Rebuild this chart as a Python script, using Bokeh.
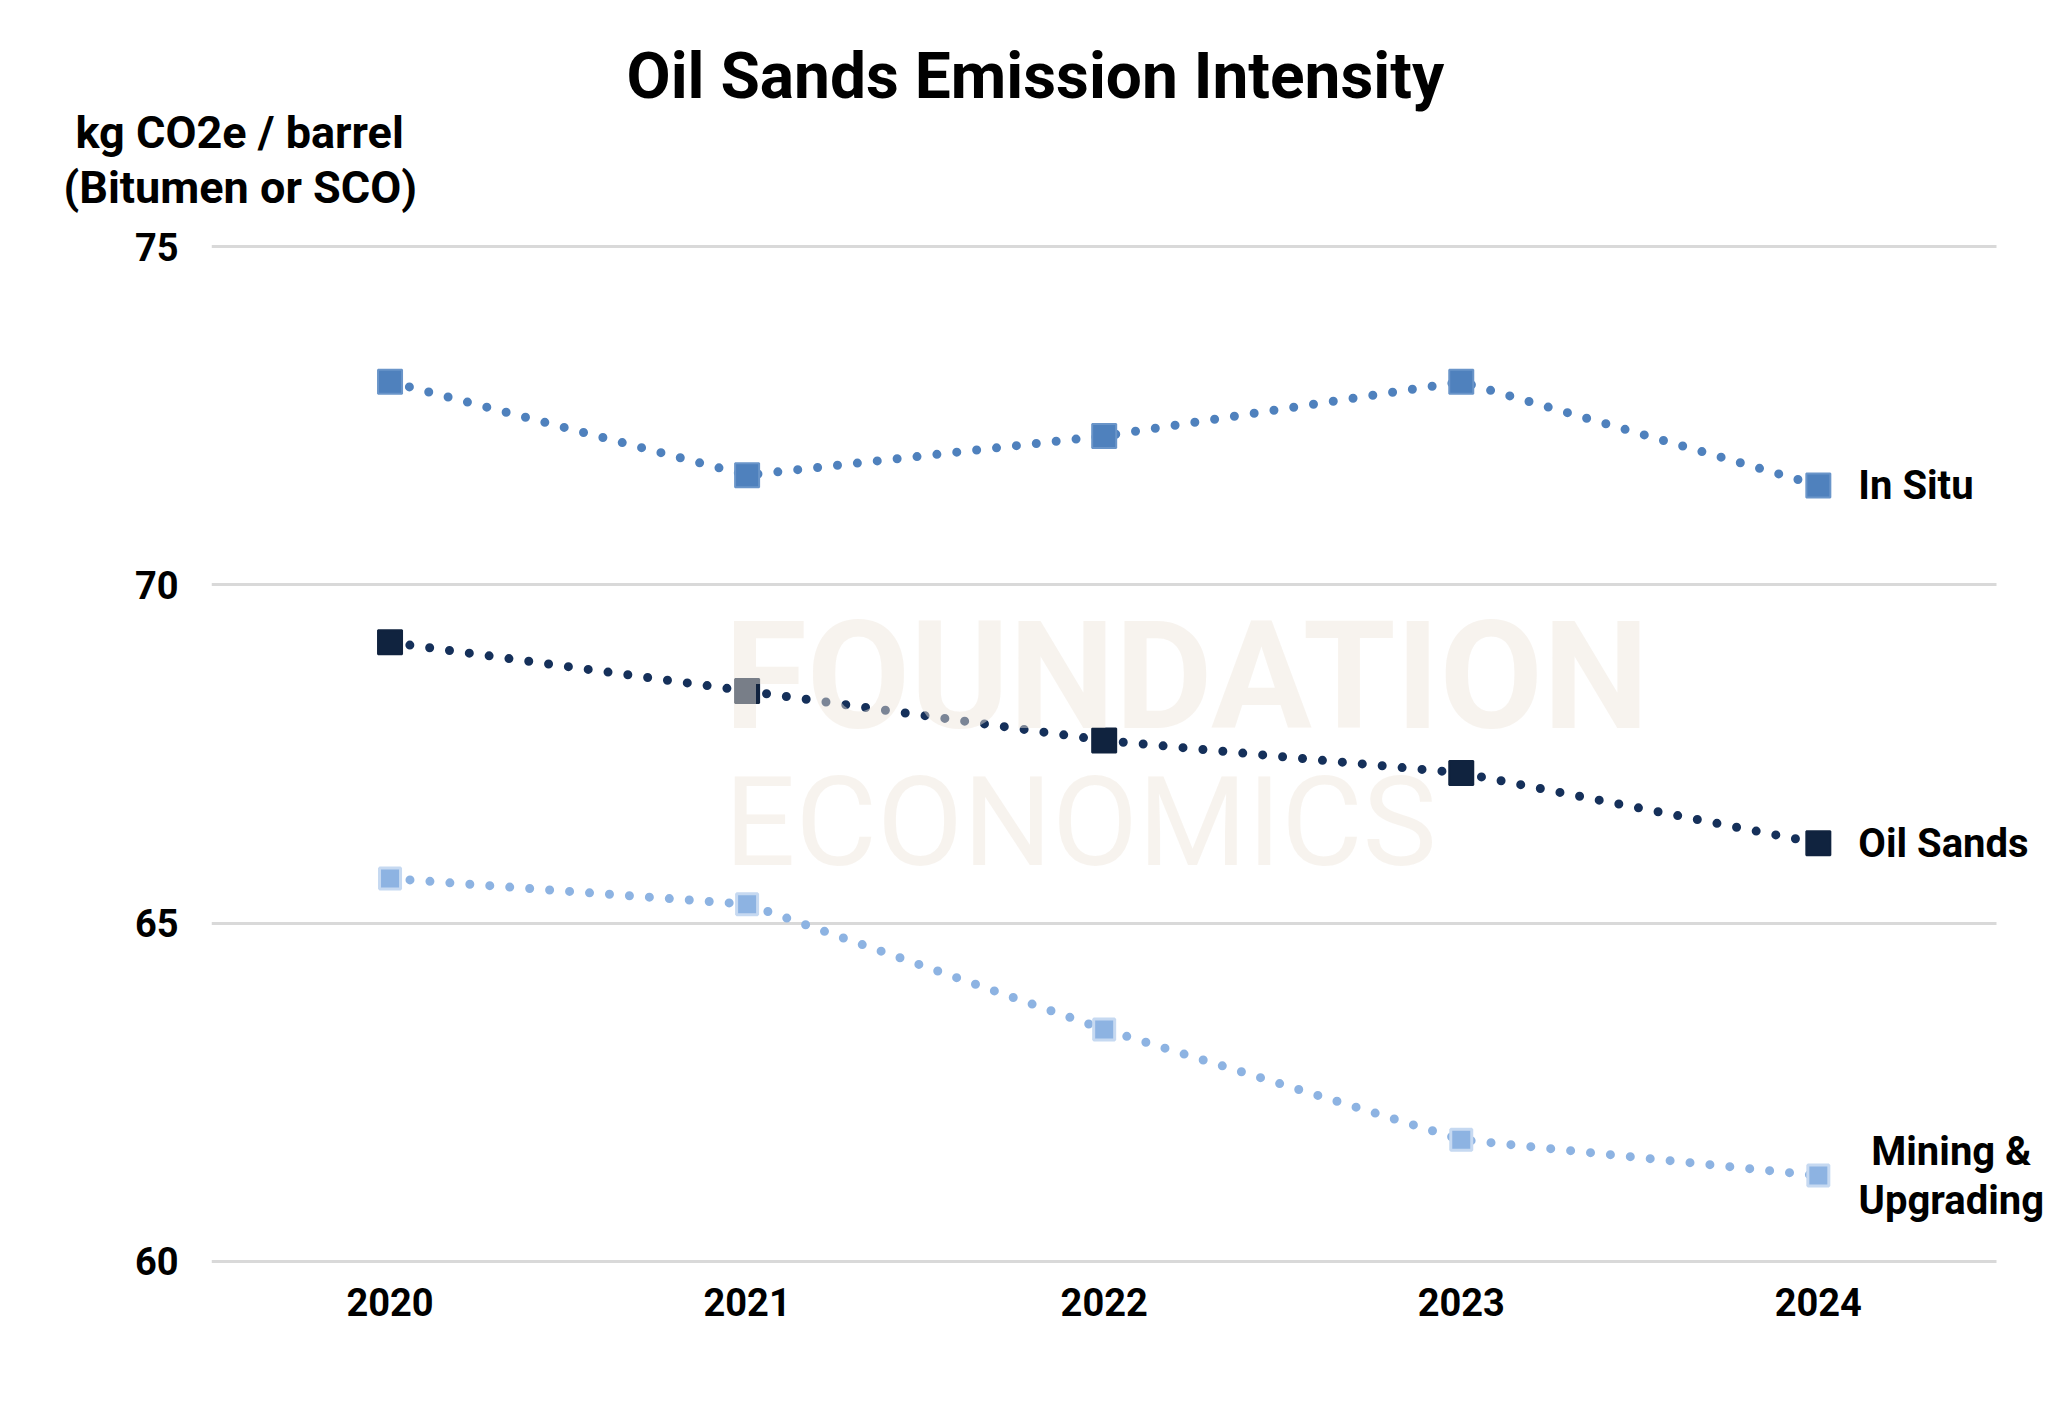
from bokeh.plotting import figure
from bokeh.models import Range1d, FixedTicker, Label, LabelSet, ColumnDataSource, Title
from bokeh.core.properties import value
from bokeh.embed import file_html
from bokeh.resources import INLINE

# ---- data ----
years = [2020, 2021, 2022, 2023, 2024]
in_situ = [73.0, 71.62, 72.2, 73.0, 71.47]
oil_sands = [69.15, 68.43, 67.7, 67.22, 66.18]
mining = [65.66, 65.28, 63.43, 61.8, 61.27]
y_ticks = [60, 65, 70, 75]
series_names = ["In Situ", "Oil Sands", "Mining &\nUpgrading"]

FONT = "Roboto"
W, H = 2071, 1402
LEFT, RIGHT, TOP, BOTTOM = 211, 0, 244, 139
X_EXTRA = 0.209   # room right of the last category for the end labels

p = figure(width=W, height=H,
           x_range=Range1d(years[0] - 0.5, years[-1] + 0.5 + X_EXTRA),
           y_range=Range1d(59.97, 75.03),
           output_backend="svg", toolbar_location=None,
           min_border_left=LEFT, min_border_right=RIGHT,
           min_border_top=TOP, min_border_bottom=BOTTOM)
p.outline_line_color = None
p.background_fill_color = "white"
p.border_fill_color = "white"

p.xgrid.grid_line_color = None
p.ygrid.grid_line_color = "#d9d9d9"
p.ygrid.grid_line_width = 3
p.ygrid.cross_bounds = (years[0] - 0.5, years[-1] + 0.5)

p.xaxis.ticker = FixedTicker(ticks=years)
p.xaxis.major_label_overrides = {y: str(y) for y in years}
p.yaxis.ticker = FixedTicker(ticks=y_ticks)
for ax in (p.xaxis[0], p.yaxis[0]):
    ax.axis_line_color = None
    ax.major_tick_line_color = None
    ax.minor_tick_line_color = None
    ax.major_label_text_font = FONT
    ax.major_label_text_font_style = "bold"
    ax.major_label_text_font_size = "38px"
    ax.major_label_text_color = "#000000"
p.yaxis.major_label_standoff = 27
p.xaxis.major_label_standoff = 18

src = ColumnDataSource(dict(x=years, ins=in_situ, oil=oil_sands, mine=mining))

specs = [
    ("ins", "#4f81bd", "#4f81bd", "#6a95c9", 24),
    ("oil", "#15305a", "#10233f", "#10233f", 24),
    ("mine", "#8db3e2", "#8db3e2", "#c6d9f1", 21),
]
for col, lc, mc, ec, ms in specs:
    p.line("x", col, source=src, line_color=lc, line_width=9,
           line_dash="0 20", line_cap="round")
for col, lc, mc, ec, ms in specs:
    p.scatter("x", col, source=src, marker="square", size=ms,
              fill_color=mc, line_color=ec, line_width=3 if col == "mine" else 2)

# end-of-series labels
last = years[-1]
lab_src = ColumnDataSource(dict(x=[last, last], y=[in_situ[-1], oil_sands[-1]],
                                t=series_names[:2]))
p.add_layout(LabelSet(x="x", y="y", text="t", source=lab_src, x_offset=40,
                      text_align="left", text_baseline="middle",
                      text_font=value(FONT), text_font_style="bold",
                      text_font_size="40px", text_color="#000000"))
m1, m2 = series_names[2].split("\n")
for line_text, dy in ((m1, 24), (m2, -25)):
    p.add_layout(LabelSet(x="x", y="y", text="t",
                          source=ColumnDataSource(dict(x=[last], y=[mining[-1]], t=[line_text])),
                          x_offset=133, y_offset=dy,
                          text_align="center", text_baseline="middle",
                          text_font=value(FONT), text_font_style="bold",
                          text_font_size="40px", text_color="#000000"))

# title and y-axis title
p.title.text = "Oil Sands Emission Intensity"
p.title.align = "left"
p.title.offset = 415
p.title.standoff = 29
p.title.text_font = FONT
p.title.text_font_style = "bold"
p.title.text_font_size = "64px"
p.title.text_color = "#000000"

p.add_layout(Title(text="(Bitumen or SCO)", align="left", offset=-148, standoff=61,
                   text_font=FONT, text_font_style="bold", text_font_size="45px",
                   text_color="#000000"), "above")
p.add_layout(Title(text="kg CO2e / barrel", align="left", offset=-136, standoff=-60,
                   text_font=FONT, text_font_style="bold", text_font_size="45px",
                   text_color="#000000"), "above")

# watermark (drawn above data, semi-transparent)
p.add_layout(Label(x=513, y=587, x_units="screen", y_units="screen",
                   text="FOUNDATION", text_align="left", text_baseline="middle",
                   text_font=FONT, text_font_style="bold", text_font_size="150px",
                   text_color="#ede5da", text_alpha=0.47))
p.add_layout(Label(x=513, y=441, x_units="screen", y_units="screen",
                   text="ECONOMICS", text_align="left", text_baseline="middle",
                   text_font=FONT, text_font_style="normal", text_font_size="125px",
                   text_color="#ede5da", text_alpha=0.47))

open("out.html", "w").write(file_html(p, INLINE))
